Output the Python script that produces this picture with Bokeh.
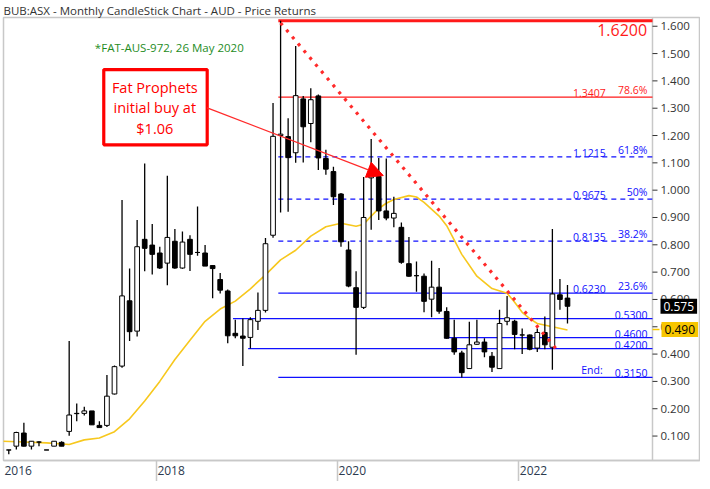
import pandas as pd
from bokeh.plotting import figure
from bokeh.models import (ColumnDataSource, Range1d, FixedTicker,
                          Label, Arrow, NormalHead, BoxAnnotation)
from bokeh.core.properties import value
from bokeh.embed import file_html
from bokeh.resources import INLINE

# ---------------- data ----------------
TITLE = "BUB:ASX - Monthly CandleStick Chart - AUD - Price Returns"
months = [str(m) for m in pd.period_range("2016-04", "2022-07", freq="M")]
opens = [0.049, 0.049, 0.063, 0.111, 0.063, 0.078, 0.049, 0.063, 0.077,
         0.117, 0.182, 0.183, 0.192, 0.139, 0.139, 0.254, 0.356, 0.595, 0.484, 0.820, 0.799,
         0.770, 0.733, 0.813, 0.715, 0.820, 0.772, 0.770, 0.724, 0.673, 0.631, 0.476, 0.466,
         0.461, 0.520, 0.560, 0.835, 1.200, 1.196, 1.137, 1.334, 1.244, 1.345, 1.116, 1.068,
         0.986, 0.781, 0.643, 0.571, 1.045, 1.050, 0.924, 0.898, 0.864, 0.731, 0.687, 0.685,
         0.601, 0.645, 0.556, 0.458, 0.404, 0.347, 0.436, 0.444, 0.392, 0.347, 0.520, 0.520,
         0.470, 0.470, 0.422, 0.479, 0.425, 0.617, 0.605]
highs = [0.050, 0.049, 0.116, 0.149, 0.082, 0.081, 0.049, 0.081, 0.081,
         0.448, 0.219, 0.207, 0.192, 0.154, 0.323, 0.358, 0.964, 0.713, 0.891, 1.098, 0.876,
         0.793, 1.053, 0.858, 0.849, 0.835, 0.940, 0.799, 0.724, 0.697, 0.636, 0.526, 0.530,
         0.535, 0.625, 0.825, 1.319, 1.620, 1.263, 1.528, 1.345, 1.373, 1.350, 1.148, 1.086,
         0.990, 0.813, 0.703, 1.048, 1.187, 1.118, 1.116, 0.976, 0.882, 0.829, 0.739, 0.695,
         0.742, 0.715, 0.571, 0.526, 0.412, 0.518, 0.526, 0.458, 0.408, 0.562, 0.613, 0.526,
         0.494, 0.472, 0.494, 0.538, 0.858, 0.675, 0.653]
lows = [0.049, 0.033, 0.051, 0.062, 0.051, 0.063, 0.049, 0.063, 0.063,
        0.101, 0.154, 0.175, 0.141, 0.131, 0.133, 0.252, 0.350, 0.448, 0.464, 0.703, 0.691,
        0.711, 0.652, 0.712, 0.712, 0.704, 0.760, 0.722, 0.604, 0.622, 0.440, 0.458, 0.356,
        0.420, 0.488, 0.552, 0.826, 0.918, 0.921, 1.100, 1.101, 1.175, 1.074, 1.056, 0.946,
        0.793, 0.645, 0.398, 0.565, 0.855, 0.891, 0.890, 0.864, 0.731, 0.683, 0.628, 0.553,
        0.535, 0.548, 0.456, 0.398, 0.314, 0.345, 0.434, 0.388, 0.334, 0.345, 0.506, 0.418,
        0.400, 0.414, 0.408, 0.418, 0.343, 0.562, 0.512]
closes = [0.049, 0.049, 0.113, 0.063, 0.081, 0.078, 0.049, 0.081, 0.063,
          0.177, 0.183, 0.192, 0.141, 0.131, 0.246, 0.354, 0.613, 0.482, 0.793, 0.787, 0.765,
          0.715, 0.827, 0.715, 0.810, 0.765, 0.772, 0.722, 0.713, 0.634, 0.467, 0.467, 0.458,
          0.526, 0.560, 0.804, 1.197, 1.205, 1.119, 1.346, 1.232, 1.331, 1.118, 1.077, 0.976,
          0.811, 0.649, 0.571, 0.900, 1.055, 0.924, 0.898, 0.915, 0.736, 0.685, 0.687, 0.593,
          0.645, 0.557, 0.458, 0.408, 0.332, 0.434, 0.444, 0.408, 0.352, 0.512, 0.533, 0.472,
          0.470, 0.418, 0.479, 0.434, 0.620, 0.600, 0.575]

# moving average
ma_months = ["2016-04", "2016-07", "2016-10", "2017-01", "2017-03", "2017-05", "2017-07",
             "2017-09", "2017-11", "2018-01", "2018-03", "2018-05", "2018-07", "2018-09",
             "2018-11", "2019-01", "2019-03", "2019-05", "2019-07", "2019-09", "2019-11",
             "2020-01", "2020-03", "2020-04", "2020-05", "2020-06", "2020-07", "2020-08",
             "2020-10", "2020-11", "2020-12", "2021-02", "2021-03", "2021-05", "2021-07",
             "2021-09", "2021-11", "2021-12", "2022-01", "2022-02", "2022-03", "2022-05",
             "2022-07"]
ma_values = [0.081, 0.078, 0.075, 0.069, 0.086, 0.093, 0.116, 0.163, 0.228, 0.300, 0.380,
             0.451, 0.520, 0.565, 0.594, 0.639, 0.690, 0.745, 0.780, 0.832, 0.866, 0.879,
             0.868, 0.875, 0.905, 0.933, 0.952, 0.966, 0.980, 0.975, 0.955, 0.905, 0.870,
             0.765, 0.685, 0.640, 0.623, 0.590, 0.553, 0.530, 0.512, 0.500, 0.488]

high_month, high_value = "2019-05", 1.6200
fib_levels = [1.3407, 1.1215, 0.9675, 0.8135, 0.6230, 0.5300, 0.4600, 0.4200, 0.3150]
fib_texts = ["1.3407", "1.1215", "0.9675", "0.8135", "0.6230", "0.5300", "0.4600", "0.4200", "0.3150"]
fib_pcts = ["78.6%", "61.8%", "50%", "38.2%", "23.6%", "", "", "", ""]
fib_from = ["2019-05", "2019-05", "2019-05", "2019-05", "2019-05", "2018-11", "2021-03",
            "2019-01", "2019-05"]
trend_months = ["2019-05", "2022-05"]
trend_values = [1.612, 0.408]
buy_month, buy_price = "2020-05", 1.0535
y_ticks = [0.1, 0.2, 0.3, 0.4, 0.5, 0.6, 0.7, 0.8, 0.9, 1.0, 1.1, 1.2, 1.3, 1.4, 1.5, 1.6]
year_labels = ["2016", "2018", "2020", "2022"]
last_price, ma_last = 0.575, 0.490


def midx(m):
    y, mo = map(int, m.split("-"))
    return (y - 2018) * 12 + (mo - 1)


FONT = "Open Sans"
RED = "#ff1a1a"
BLUE = "#1010ff"
PXM = 7.55                 # pixels per month
X0 = -20.7                 # left edge of the frame
AX = 65.26                 # price axis position (month units)
X1 = X0 + 697 / PXM        # right edge of the frame (incl. price axis panel)
Y0, Y1 = 0.0105, 1.632

x = [midx(m) for m in months]
up = [c >= o for o, c in zip(opens, closes)]
src = ColumnDataSource(dict(
    x=x, high=highs, low=lows,
    top=[max(o, c) for o, c in zip(opens, closes)],
    bottom=[min(o, c) for o, c in zip(opens, closes)],
    fill=["white" if u else "black" for u in up],
))

p = figure(width=700, height=481, output_backend="svg", toolbar_location=None,
           x_range=Range1d(X0, X1), y_range=Range1d(Y0, Y1),
           y_axis_location=None, min_border_left=3, min_border_right=0,
           min_border_bottom=21, min_border_top=15, title=TITLE)
p.background_fill_color = "white"
p.border_fill_color = "white"
p.outline_line_color = "#c8c8c8"
p.outline_line_width = 1.5
p.xgrid.visible = False
p.ygrid.visible = False
p.title.text_font = FONT
p.title.text_font_size = "11.5px"
p.title.text_font_style = "normal"
p.title.text_color = "#333333"
p.title.text_line_height = 0.8
p.title.offset = 0
p.title.standoff = 0

# bottom x axis: separators at year boundaries, labels to their right
bounds = [midx(y + "-01") - 0.5 for y in year_labels]
label_pos = [max(b + 2.0, X0 + 2.0) for b in bounds]
label_pos = [round(v * 4) / 4 for v in label_pos]
xa = p.xaxis[0]
xa.ticker = FixedTicker(ticks=label_pos, minor_ticks=[b for b in bounds if b > X0])
xa.major_label_overrides = {v: t for v, t in zip(label_pos, year_labels)}
xa.major_tick_out = 0
xa.major_tick_in = 0
xa.minor_tick_out = 21
xa.minor_tick_in = 0
xa.minor_tick_line_color = "#c8c8c8"
xa.minor_tick_line_width = 1.5
xa.axis_line_color = "#c8c8c8"
xa.axis_line_width = 1.5
xa.major_label_text_font = FONT
xa.major_label_text_font_size = "12px"
xa.major_label_text_color = "#2b3a4f"
xa.major_label_standoff = -16

# price scale on the right (drawn on the frame's own y scale)
p.segment(x0=[AX], y0=[Y0], x1=[AX], y1=[Y1], line_color="#c8c8c8", line_width=1.5)
p.segment(x0=[AX] * len(y_ticks), y0=y_ticks, x1=[AX + 5 / PXM] * len(y_ticks), y1=y_ticks,
          line_color="#333333", line_width=1)
p.text(x=[AX + 8 / PXM] * len(y_ticks), y=y_ticks, text=["%.3f" % t for t in y_ticks],
       text_font=value(FONT), text_font_size="11.5px", text_color="#333333",
       text_baseline="middle", text_align="left")

# fib / level lines
for lvl, start in zip(fib_levels, fib_from):
    col = RED if lvl > 1.3 else BLUE
    dashed = 0.7 < lvl < 1.3
    p.segment(x0=[midx(start) - 0.3], y0=[lvl], x1=[AX], y1=[lvl],
              line_color=col, line_width=1.3, line_dash="5 4" if dashed else "solid")

# high line
p.segment(x0=[midx(high_month) - 0.3], y0=[high_value], x1=[AX], y1=[high_value],
          line_color=RED, line_width=3)

# moving average
p.line([midx(m) for m in ma_months], ma_values, line_color="#f7c81e", line_width=1.6)

# candles
p.segment(x0="x", y0="high", x1="x", y1="low", source=src, line_color="black", line_width=1.3)
p.vbar(x="x", width=0.62, top="top", bottom="bottom", source=src,
       fill_color="fill", line_color="black", line_width=1)

# dotted down trend line
tx = [midx(trend_months[0]), midx(trend_months[1]) + 0.85]
p.line(tx, trend_values, line_color="#ff2a2a", line_width=3.2, line_dash="3 6")

# text on levels
PRICE_R, PCT_R, END_R = 59.07, 64.6, 58.67
for lvl, txt, pct in zip(fib_levels, fib_texts, fib_pcts):
    col = RED if lvl > 1.3 else BLUE
    if pct:
        p.add_layout(Label(x=PRICE_R, y=lvl, text=txt, text_align="right", text_baseline="bottom",
                           text_font=FONT, text_font_size="10.5px", text_color=col))
        p.add_layout(Label(x=PCT_R, y=lvl, text=pct, text_align="right", text_baseline="bottom",
                           text_font=FONT, text_font_size="10.5px", text_color=col))
    else:
        p.add_layout(Label(x=PCT_R, y=lvl, text=txt, text_align="right", text_baseline="bottom",
                           text_font=FONT, text_font_size="10.5px", text_color=col))
p.add_layout(Label(x=END_R, y=fib_levels[-1], text="End:", text_align="right", text_baseline="bottom",
                   text_font=FONT, text_font_size="10.5px", text_color=BLUE))
p.add_layout(Label(x=64.55, y=high_value, text="%.4f" % high_value, text_align="right",
                   text_baseline="top", y_offset=-3, text_font=FONT, text_font_size="16px",
                   text_color=RED))

# note text
p.add_layout(Label(x=1.26, y=1.521, text="*FAT-AUS-972, 26 May 2020", text_align="center",
                   text_baseline="middle", text_font=FONT, text_font_size="11.5px",
                   text_color="#1e8c1e"))

# callout box and arrow
p.add_layout(BoxAnnotation(left=-7.42, right=6.28, top=1.4415, bottom=1.1658,
                           fill_color="white", fill_alpha=1.0, line_color="#ff0000",
                           line_alpha=1.0, line_width=3.2))
for t, yy in zip(["Fat Prophets", "initial buy at", "$%.2f" % 1.06], [1.3765, 1.3012, 1.2267]):
    p.add_layout(Label(x=-0.66, y=yy, text=t, text_align="center", text_baseline="middle",
                       text_font=FONT, text_font_size="14.5px", text_color="#ff0000"))
p.add_layout(Arrow(end=NormalHead(size=16, fill_color="#ff0000", line_color="#ff0000"),
                   x_start=6.28, y_start=1.301, x_end=midx(buy_month) + 1.6, y_end=buy_price,
                   line_color="#ff2a2a", line_width=1.3))

# price tags on the price scale
p.segment(x0=[AX], y0=[ma_last], x1=[AX + 7 / PXM], y1=[ma_last], line_color="#f7c600", line_width=1.5)
p.add_layout(Label(x=AX + 8 / PXM, y=last_price, text="%.3f" % last_price, text_baseline="middle",
                   text_font=FONT, text_font_size="12px", text_color="white",
                   background_fill_color="black", background_fill_alpha=1.0, padding=3))
p.add_layout(Label(x=AX + 9 / PXM, y=ma_last, text="%.3f" % ma_last, text_baseline="middle",
                   text_font=FONT, text_font_size="12px", text_color="black",
                   background_fill_color="#f7c600", background_fill_alpha=1.0, padding=3))

open("out.html", "w").write(file_html(p, INLINE))
